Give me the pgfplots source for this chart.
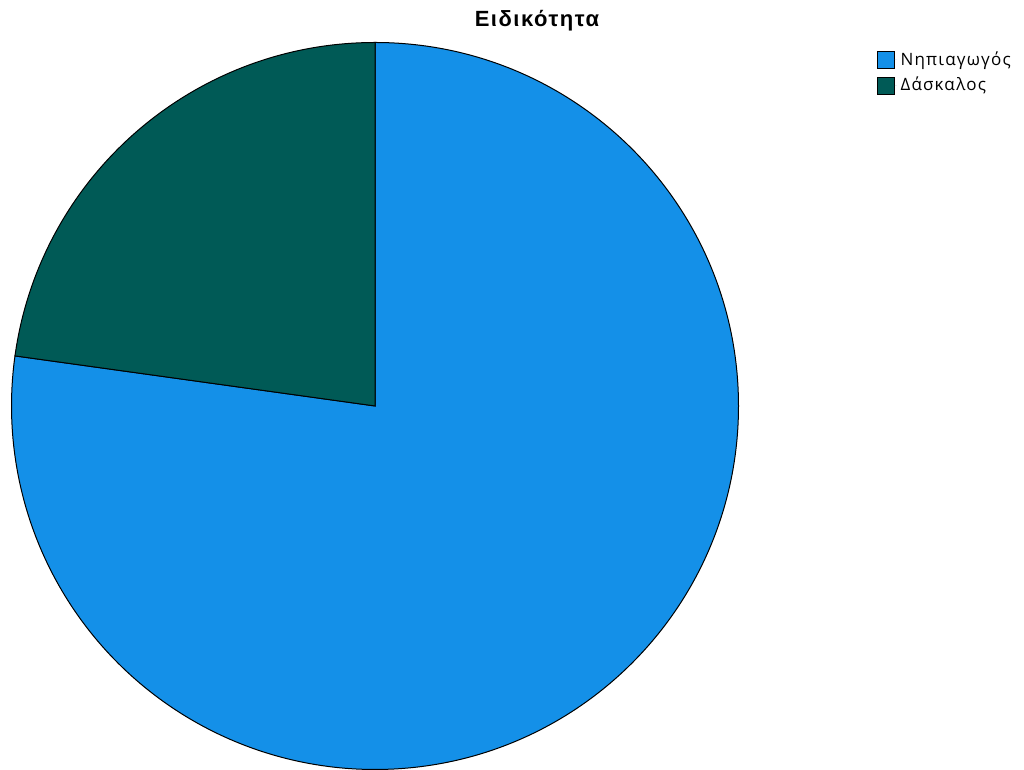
\documentclass[border=0pt]{standalone}
\usepackage{pgfplots}
\pgfplotsset{compat=1.18}
\usepackage{pgfplotstable}
\usepackage{fontspec}
\setmainfont{Liberation Sans}
\newfontfamily\legfont[LetterSpace=7]{Open Sans}
\newfontfamily\titfont[LetterSpace=7]{Liberation Sans}
\definecolor{cblue}{RGB}{20,144,232}
\definecolor{cteal}{RGB}{0,90,86}
\pgfplotstableread[col sep=comma]{
cat,value
Nip,77.2
Das,22.8
}\piedata
\pgfplotstablegetelem{0}{value}\of\piedata \let\vA\pgfplotsretval
\pgfplotstablegetelem{1}{value}\of\piedata \let\vB\pgfplotsretval
\begin{document}
\begin{tikzpicture}
\begin{axis}[
  x=0.5pt, y=0.5pt,
  xmin=0, xmax=1024, ymin=0, ymax=769,
  hide axis, clip=false,
  legend style={at={(axis cs:877,722)}, anchor=north west, draw=none, fill=none,
    font=\legfont\fontsize{8.5pt}{9pt}\selectfont, row sep=0.6pt, inner sep=0pt,
    cells={anchor=west}},
  legend image code/.code={\draw[#1] (0pt,-4.2pt) rectangle (8.2pt,4.2pt); \path[draw=none] (0pt,0pt) -- (9.4pt,0pt);},
]
\path (axis cs:0,0) rectangle (axis cs:1024,769);
\pgfmathsetmacro{\endA}{90-3.6*\vA}
\pgfmathsetmacro{\endB}{\endA-3.6*\vB}
\draw[fill=cblue, draw=black, line width=0.5pt]
  (axis cs:375,363) -- (axis cs:375,726.5) arc[start angle=90, end angle=\endA, radius=181.75pt] -- cycle;
\draw[fill=cteal, draw=black, line width=0.5pt]
  (axis cs:375,363) -- ++(\endA:181.75pt) arc[start angle=\endA, end angle=\endB, radius=181.75pt] -- cycle;
\addlegendimage{fill=cblue, draw=black, line width=0.4pt}
\addlegendentry{Νηπιαγωγός}
\addlegendimage{fill=cteal, draw=black, line width=0.4pt}
\addlegendentry{Δάσκαλος}
\node[font=\titfont\bfseries\fontsize{11pt}{12pt}\selectfont] at (axis cs:537,748) {Ειδικότητα};
\end{axis}
\end{tikzpicture}
\end{document}
